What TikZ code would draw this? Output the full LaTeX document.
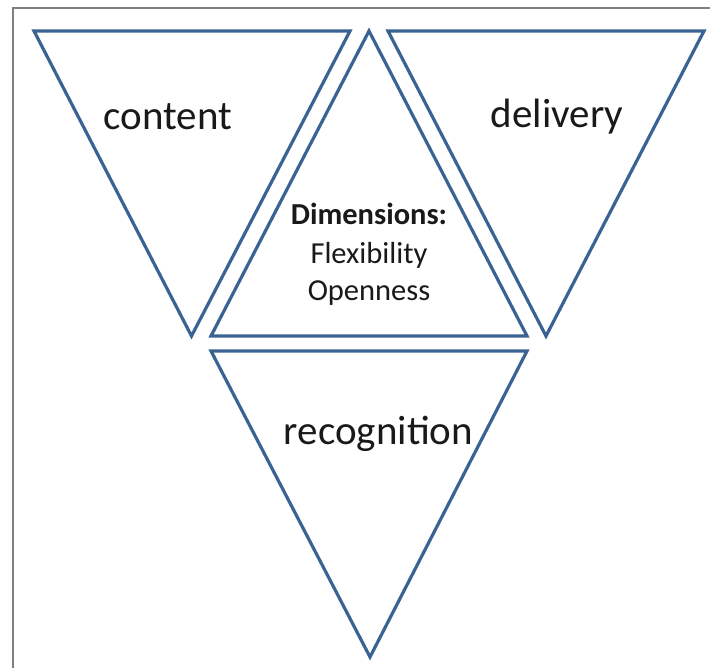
\documentclass[tikz,border=0pt]{standalone}
\usepackage{fontspec}
\setmainfont{Carlito}
\definecolor{tri}{HTML}{3A6394}
\definecolor{frame}{HTML}{7F7F7F}
\begin{document}
\begin{tikzpicture}[x=1pt,y=-1pt,
  tri/.style={draw=tri,line width=3.2pt,line join=miter},
  big/.style={font=\fontsize{41}{48}\selectfont,text=black!90,anchor=base,inner sep=0pt},
  small/.style={font=\fontsize{30.5}{37}\selectfont,text=black!90,anchor=base,inner sep=0pt}]
\useasboundingbox (0,0) rectangle (710,668);
\draw[frame,line width=1.3pt] (13,668) -- (13,8) -- (710,8);
% content
\draw[tri] (34,31) -- (350,31) -- (191.5,336) -- cycle;
% delivery
\draw[tri] (388,31) -- (704,31) -- (546,336) -- cycle;
% centre
\draw[tri] (369,31) -- (527,336) -- (211,336) -- cycle;
% recognition
\draw[tri] (211,351) -- (527,351) -- (370,657) -- cycle;
\node[big] (content) at (168,130) {content};
\node[big] (delivery) at (557,128) {delivery};
\node[big] (recognition) at (378.5,445) {recognition};
\node[small,font=\fontsize{30.5}{37}\selectfont\bfseries] (dim) at (369,225) {Dimensions:};
\node[small] (flex) at (369,264) {Flexibility};
\node[small] (open) at (369,301) {Openness};
\end{tikzpicture}
\end{document}
